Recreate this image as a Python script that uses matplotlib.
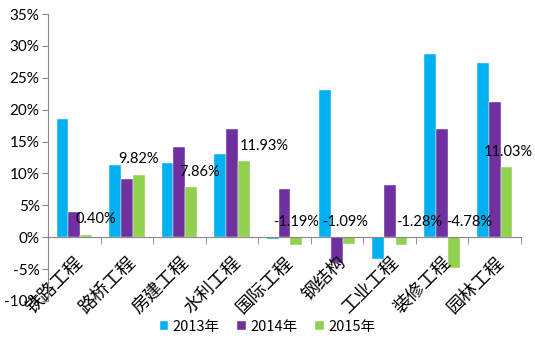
import matplotlib.pyplot as plt
import matplotlib.transforms as mtransforms
import numpy as np
from matplotlib.ticker import FuncFormatter, FixedLocator

plt.rcParams['font.family'] = ['Lato', 'Noto Sans CJK SC', 'DejaVu Sans']

# Data
categories = ['铁路工程', '路桥工程', '房建工程', '水利工程', '国际工程',
              '钢结构', '工业工程', '装修工程', '园林工程']
years = ['2013年', '2014年', '2015年']
v2013 = [18.6, 11.4, 11.7, 13.1, -0.3, 23.1, -3.45, 28.8, 27.3]
v2014 = [4.0, 9.1, 14.1, 16.9, 7.5, -4.0, 8.15, 16.9, 21.2]
v2015 = [0.40, 9.82, 7.86, 11.93, -1.19, -1.09, -1.28, -4.78, 11.03]

colors = ['#00B0F0', '#7030A0', '#92D050']
# horizontal nudge (points) for the 2015 value labels, as in the original
label_dx = [7, 0, 6, 15, 0, -3, 13, 11, 1]

fig = plt.figure(figsize=(5.35, 3.42), dpi=100)
ax = fig.add_axes([48 / 535, 41 / 342, (521 - 48) / 535, (301 - 14) / 342])

x = np.arange(len(categories))
w = 0.225
for i, (vals, c, lab) in enumerate(zip([v2013, v2014, v2015], colors, years)):
    ax.bar(x + (i - 1) * w, vals, width=w, color=c, label=lab,
           edgecolor='white', linewidth=0.3)

# value labels for 2015
for xi, v, dx in zip(x, v2015, label_dx):
    ax.annotate(f'{v:.2f}%', (xi + w, max(v, 0)), xytext=(dx, 11),
                textcoords='offset points', ha='center', va='center',
                fontsize=10.5, color='black')

ax.set_xlim(-0.5, len(categories) - 0.5)
ax.set_ylim(-10, 35)
ax.set_yticks(np.arange(-10, 36, 5))
ax.yaxis.set_major_formatter(FuncFormatter(lambda v, p: f'{v:.0f}%'))

for s in ['top', 'right']:
    ax.spines[s].set_visible(False)
ax.spines['bottom'].set_position(('data', 0))
ax.spines['left'].set_color('#888888')
ax.spines['bottom'].set_color('#888888')

ax.set_xticks(x)
ax.set_xticklabels(categories, rotation=45, ha='right', va='center',
                   rotation_mode='anchor', fontsize=13,
                   family=['Noto Sans CJK SC'])
ax.tick_params(axis='x', length=0, pad=16)
shift = mtransforms.ScaledTranslation(0.06, 0, fig.dpi_scale_trans)
for t in ax.get_xticklabels():
    t.set_transform(t.get_transform() + shift)
ax.xaxis.set_minor_locator(FixedLocator(np.arange(-0.5, len(categories), 1.0)))
ax.tick_params(axis='x', which='minor', length=5, color='#888888', direction='out')
ax.tick_params(axis='y', length=4, color='#888888', labelsize=11, pad=2)

fig.legend(loc='center', bbox_to_anchor=(0.5, 0.045), ncol=3, frameon=False,
           handlelength=0.6, handleheight=0.6, handletextpad=0.3,
           columnspacing=1.2, prop={'family': ['Noto Sans CJK SC'], 'size': 10.5})

fig.savefig('out.png', dpi=100)
